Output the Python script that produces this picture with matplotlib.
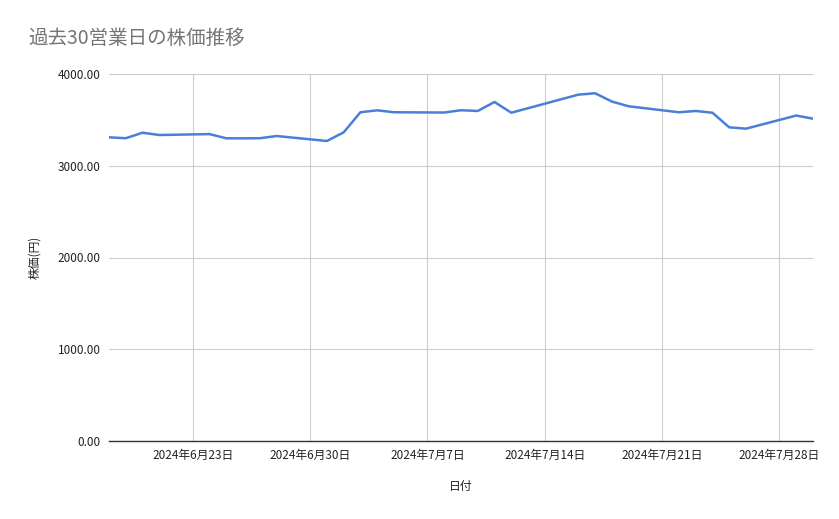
import matplotlib
matplotlib.use("Agg")
import matplotlib.pyplot as plt
import matplotlib.dates as mdates
import numpy as np
import datetime as dt

plt.rcParams['font.family'] = ['Noto Sans CJK JP', 'DejaVu Sans']

dates = ["2024-06-18", "2024-06-19", "2024-06-20", "2024-06-21",
         "2024-06-24", "2024-06-25", "2024-06-26", "2024-06-27", "2024-06-28",
         "2024-07-01", "2024-07-02", "2024-07-03", "2024-07-04", "2024-07-05",
         "2024-07-08", "2024-07-09", "2024-07-10", "2024-07-11", "2024-07-12",
         "2024-07-16", "2024-07-17", "2024-07-18", "2024-07-19",
         "2024-07-22", "2024-07-23", "2024-07-24", "2024-07-25", "2024-07-26",
         "2024-07-29", "2024-07-30"]
prices = [3310, 3300, 3360, 3335,
          3345, 3299, 3299, 3300, 3324,
          3270, 3364, 3583, 3604, 3583,
          3580, 3605, 3597, 3695, 3578,
          3775, 3790, 3700, 3648,
          3583, 3597, 3578, 3419, 3404,
          3547, 3513]
tick_dates = ["2024-06-23", "2024-06-30", "2024-07-07", "2024-07-14", "2024-07-21", "2024-07-28"]
y_ticks = [0, 1000, 2000, 3000, 4000]

x = [dt.datetime.strptime(d, "%Y-%m-%d") for d in dates]
xt = [dt.datetime.strptime(d, "%Y-%m-%d") for d in tick_dates]

W, H = 839, 519
fig = plt.figure(figsize=(W / 100, H / 100), dpi=100)
ax = fig.add_axes([109 / W, 1 - 441 / H, (813 - 109) / W, (441 - 74) / H])

ax.plot(x, prices, color='#4a7fd8', lw=1.8, solid_joinstyle='round')

ax.set_xlim(x[0], x[-1])
ax.set_ylim(0, 4000)
ax.set_yticks(y_ticks)
ax.set_yticklabels([f"{v:.2f}" for v in y_ticks])
ax.set_xticks(xt)
ax.set_xticklabels([f"{d.year}年{d.month}月{d.day}日" for d in xt])

ax.grid(True, color='#cccccc', lw=0.8)
ax.set_axisbelow(True)
for s in ['top', 'right', 'left']:
    ax.spines[s].set_visible(False)
ax.spines['bottom'].set_color('#333333')
ax.spines['bottom'].set_linewidth(1.0)
ax.tick_params(axis='both', length=0, labelsize=8.5, colors='#222222')
ax.tick_params(axis='y', pad=6)
ax.tick_params(axis='x', pad=6)

ax.set_xlabel("日付", fontsize=8.5, color='#222222', labelpad=13)
ax.set_ylabel("株価(円)", fontsize=8.5, color='#222222', labelpad=12)

fig.text(28 / W, 1 - 38 / H, "過去30営業日の株価推移", fontsize=14, color='#757575',
         ha='left', va='center')

fig.savefig("out.png", dpi=100)
